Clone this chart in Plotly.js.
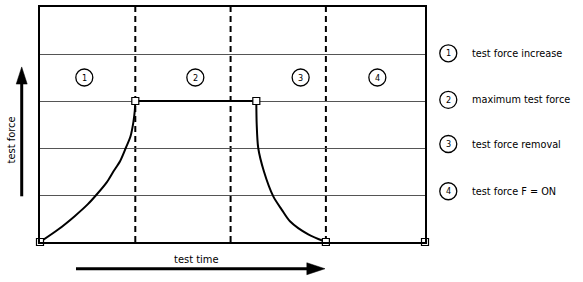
<!DOCTYPE html>
<html>
<head>
<meta charset="utf-8">
<script src="https://cdn.plot.ly/plotly-3.0.1.min.js"></script>
<style>html,body{margin:0;padding:0;background:#fff;}#chart{width:583px;height:282px;}</style>
</head>
<body>
<div id="chart"></div>
<script>
// ---- data ----
var increaseX = [0, 0.19, 0.364, 0.50, 0.59, 0.70, 0.77, 0.84, 0.90, 0.95, 0.98, 0.995, 1.0];
var increaseY = [0, 0.265, 0.55, 0.80, 1.0, 1.27, 1.5, 1.72, 2.0, 2.25, 2.55, 2.8, 3.0];
var holdX = [1, 2.27];
var holdY = [3, 3];
var removeX = [2.27, 2.274, 2.29, 2.35, 2.448, 2.536, 2.623, 2.815, 3.0];
var removeY = [3, 2.5, 2.0, 1.5, 0.97, 0.69, 0.44, 0.16, 0];
var markerX = [0, 1, 2.27, 3, 4.04];
var markerY = [0, 3, 3, 0, 0];
var dividerX = [1, 2, 3];
var regionLabels = ['1', '2', '3', '4'];
var regionX = [0.465, 1.63, 2.735, 3.54];
var regionY = [3.5, 3.5, 3.5, 3.5];
var legendNums = ['1', '2', '3', '4'];
var legendTexts = ['test force increase', 'maximum test force', 'test force removal', 'test force F = ON'];
var legendY = [0.803, 0.605, 0.417, 0.216];
var xTitle = 'test time';
var yTitle = 'test force';

var FONT = '"DejaVu Sans Condensed", "Liberation Sans", Arial, sans-serif';
var lineStyle = {color: '#000', width: 2};

var traces = [
  {x: increaseX, y: increaseY, mode: 'lines', line: Object.assign({shape: 'spline', smoothing: 0.8}, lineStyle), hoverinfo: 'skip', cliponaxis: false},
  {x: holdX, y: holdY, mode: 'lines', line: lineStyle, hoverinfo: 'skip', cliponaxis: false},
  {x: removeX, y: removeY, mode: 'lines', line: Object.assign({shape: 'spline', smoothing: 0.8}, lineStyle), hoverinfo: 'skip', cliponaxis: false},
  {x: markerX, y: markerY, mode: 'markers', marker: {symbol: 'square', size: 7, color: '#fff', line: {color: '#000', width: 1.2}}, hoverinfo: 'skip', cliponaxis: false}
];

var shapes = [];
var annotations = [];

dividerX.forEach(function (x) {
  shapes.push({type: 'line', xref: 'x', yref: 'y', x0: x, x1: x, y0: 0, y1: 5, layer: 'below',
    line: {color: '#000', width: 2, dash: '6px,4px'}});
});

regionLabels.forEach(function (t, i) {
  shapes.push({type: 'circle', xref: 'x', yref: 'y', xsizemode: 'pixel', ysizemode: 'pixel',
    xanchor: regionX[i], yanchor: regionY[i], x0: -8.5, x1: 8.5, y0: -8.5, y1: 8.5,
    line: {color: '#000', width: 1.3}});
  annotations.push({xref: 'x', yref: 'y', x: regionX[i], y: regionY[i], xanchor: 'center', yanchor: 'middle',
    text: t, showarrow: false, font: {family: FONT, size: 9, color: '#000'}});
});

legendNums.forEach(function (t, i) {
  shapes.push({type: 'circle', xref: 'paper', yref: 'paper', xsizemode: 'pixel', ysizemode: 'pixel',
    xanchor: 1.0605, yanchor: legendY[i], x0: -8.5, x1: 8.5, y0: -8.5, y1: 8.5,
    line: {color: '#000', width: 1.3}});
  annotations.push({xref: 'paper', yref: 'paper', x: 1.0605, y: legendY[i], xanchor: 'center', yanchor: 'middle',
    text: t, showarrow: false, font: {family: FONT, size: 9, color: '#000'}});
  annotations.push({xref: 'paper', yref: 'paper', x: 1.117, y: legendY[i], xanchor: 'left', yanchor: 'middle',
    text: legendTexts[i], showarrow: false, font: {family: FONT, size: 10.8, color: '#000'}});
});

// axis arrows (decoration)
shapes.push({type: 'line', xref: 'paper', yref: 'paper', x0: -0.0475, x1: -0.0475, y0: 0.1945, y1: 0.69,
  line: {color: '#000', width: 3}});
shapes.push({type: 'path', xref: 'paper', yref: 'paper', path: 'M -0.0618 0.672 L -0.0332 0.672 L -0.0475 0.745 Z',
  fillcolor: '#000', line: {color: '#000', width: 0.5}});
shapes.push({type: 'line', xref: 'paper', yref: 'paper', x0: 0.0935, x1: 0.70, y0: -0.1138, y1: -0.1138,
  line: {color: '#000', width: 3}});
shapes.push({type: 'path', xref: 'paper', yref: 'paper', path: 'M 0.693 -0.0883 L 0.693 -0.1393 L 0.7403 -0.1138 Z',
  fillcolor: '#000', line: {color: '#000', width: 0.5}});

annotations.push({xref: 'paper', yref: 'paper', x: -0.0735, y: 0.435, xanchor: 'center', yanchor: 'middle',
  text: yTitle, textangle: -90, showarrow: false, font: {family: FONT, size: 11, color: '#000'}});
annotations.push({xref: 'paper', yref: 'paper', x: 0.407, y: -0.0743, xanchor: 'center', yanchor: 'middle',
  text: xTitle, showarrow: false, font: {family: FONT, size: 11, color: '#000'}});

var layout = {
  width: 583, height: 282,
  margin: {l: 40, r: 158, t: 7, b: 39.5},
  paper_bgcolor: '#fff', plot_bgcolor: '#fff',
  showlegend: false,
  xaxis: {range: [0, 4.04], showgrid: false, zeroline: false, showticklabels: false, ticks: '',
    showline: true, mirror: true, linecolor: '#000', linewidth: 2, fixedrange: true},
  yaxis: {range: [0, 5], dtick: 1, showgrid: true, gridcolor: '#555', gridwidth: 1, zeroline: false,
    showticklabels: false, ticks: '', showline: true, mirror: true, linecolor: '#000', linewidth: 2, fixedrange: true},
  shapes: shapes,
  annotations: annotations
};

Plotly.newPlot('chart', traces, layout, {displayModeBar: false, staticPlot: true});
</script>
</body>
</html>
